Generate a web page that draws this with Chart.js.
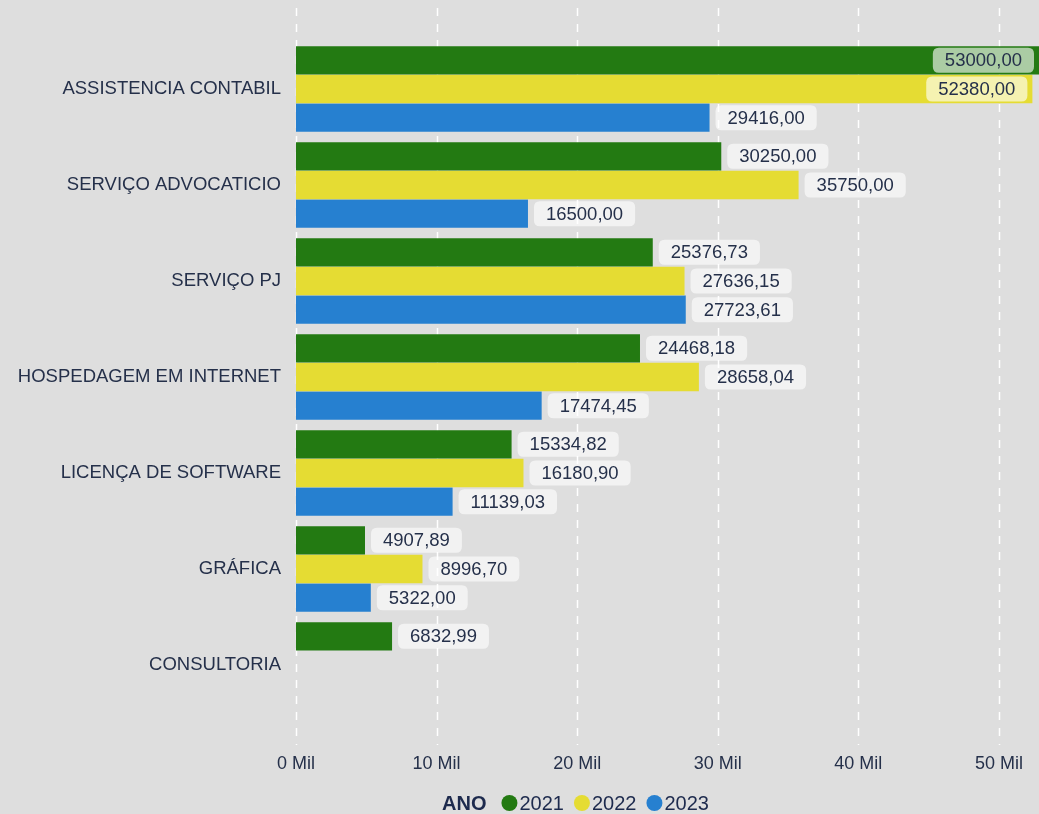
<!DOCTYPE html>
<html>
<head>
<meta charset="utf-8">
<script src="https://cdn.jsdelivr.net/npm/chart.js@4.4.1/dist/chart.umd.min.js"></script>
<style>
  html, body { margin: 0; padding: 0; background: #dedede; }
  canvas { display: block; }
</style>
</head>
<body>
<canvas id="chart0" width="1039" height="814"></canvas>
<script>
var categorias = ["ASSISTENCIA CONTABIL", "SERVIÇO ADVOCATICIO", "SERVIÇO PJ", "HOSPEDAGEM EM INTERNET", "LICENÇA DE SOFTWARE", "GRÁFICA", "CONSULTORIA"];
var anos = ["2021", "2022", "2023"];
var valores2021 = [53000.00, 30250.00, 25376.73, 24468.18, 15334.82, 4907.89, 6832.99];
var valores2022 = [52380.00, 35750.00, 27636.15, 28658.04, 16180.90, 8996.70, null];
var valores2023 = [29416.00, 16500.00, 27723.61, 17474.45, 11139.03, 5322.00, null];
var ticksX = [0, 10000, 20000, 30000, 40000, 50000];
var cores = ["#237a12", "#e5dc33", "#2680d0"];

var corTexto = "#25304a";
var fonte = "'Liberation Sans', Arial, sans-serif";

function formatar(v) {
    return v.toFixed(2).replace('.', ',');
}

function roundRect(c, x, y, w, h, r) {
    c.beginPath();
    c.moveTo(x + r, y);
    c.lineTo(x + w - r, y);
    c.quadraticCurveTo(x + w, y, x + w, y + r);
    c.lineTo(x + w, y + h - r);
    c.quadraticCurveTo(x + w, y + h, x + w - r, y + h);
    c.lineTo(x + r, y + h);
    c.quadraticCurveTo(x, y + h, x, y + h - r);
    c.lineTo(x, y + r);
    c.quadraticCurveTo(x, y, x + r, y);
    c.closePath();
}

// dashed white lines for the x ticks, a bit taller than the plot area
var gradeTracejada = {
    id: 'gradeTracejada',
    beforeDatasetsDraw: function(chart) {
        var c = chart.ctx;
        var x = chart.scales.x;
        c.save();
        c.strokeStyle = '#ffffff';
        c.lineWidth = 1.5;
        c.setLineDash([8, 8]);
        x.ticks.forEach(function(t) {
            var px = Math.round(x.getPixelForValue(t.value)) + 0.5;
            c.beginPath();
            c.moveTo(px, 8);
            c.lineTo(px, chart.chartArea.bottom + 32);
            c.stroke();
        });
        c.restore();
    }
};

// value labels in rounded boxes
var rotulos = {
    id: 'rotulos',
    afterDatasetsDraw: function(chart) {
        var c = chart.ctx;
        var area = chart.chartArea;
        c.save();
        c.font = '18.5px ' + fonte;
        c.textBaseline = 'middle';
        chart.data.datasets.forEach(function(ds, i) {
            var meta = chart.getDatasetMeta(i);
            meta.data.forEach(function(bar, j) {
                var v = ds.data[j];
                if (v === null || v === undefined) return;
                var txt = formatar(v);
                var w = c.measureText(txt).width + 24;
                var h = 25;
                var fim = Math.min(bar.x, area.right);
                var bx = fim + 6;
                if (bx + w > area.right) bx = fim - 5 - w;
                var by = bar.y - h / 2;
                c.fillStyle = 'rgba(255,255,255,0.62)';
                roundRect(c, bx, by, w, h, 6);
                c.fill();
                c.fillStyle = corTexto;
                c.textAlign = 'center';
                c.fillText(txt, bx + w / 2, bar.y + 1);
            });
        });
        c.restore();
    }
};

// legend line: "ANO" + coloured dots
var legendaAno = {
    id: 'legendaAno',
    afterDraw: function(chart) {
        var c = chart.ctx;
        var y = 804;
        c.save();
        c.textBaseline = 'middle';
        c.textAlign = 'left';
        c.font = 'bold 20px ' + fonte;
        c.fillStyle = '#1d2a4d';
        var x = 442;
        c.fillText('ANO', x, y);
        x += c.measureText('ANO').width + 15;
        c.font = '20px ' + fonte;
        chart.data.datasets.forEach(function(ds) {
            c.fillStyle = ds.backgroundColor;
            c.beginPath();
            c.arc(x + 8, y - 1, 8, 0, Math.PI * 2);
            c.fill();
            x += 18;
            c.fillStyle = '#1d2a4d';
            c.fillText(ds.label, x, y);
            x += c.measureText(ds.label).width + 10;
        });
        c.restore();
    }
};

var ctx = document.getElementById('chart0').getContext('2d');

var chart = new Chart(ctx, {
    type: 'bar',
    data: {
        labels: categorias,
        datasets: [
            { label: anos[0], data: valores2021, backgroundColor: cores[0] },
            { label: anos[1], data: valores2022, backgroundColor: cores[1] },
            { label: anos[2], data: valores2023, backgroundColor: cores[2] }
        ]
    },
    options: {
        responsive: false,
        animation: false,
        indexAxis: 'y',
        categoryPercentage: 0.895,
        barPercentage: 0.99,
        layout: { padding: { top: 41, right: 0, bottom: 40, left: 0 } },
        plugins: {
            legend: { display: false },
            tooltip: { enabled: false }
        },
        scales: {
            x: {
                min: 0,
                max: 52850,
                grid: { display: false, drawTicks: false, tickLength: 0 },
                border: { display: false },
                afterBuildTicks: function(axis) {
                    axis.ticks = ticksX.map(function(v) { return { value: v }; });
                },
                afterFit: function(axis) {
                    axis.height = 61;
                    axis.paddingRight = 0;
                    axis.paddingLeft = 0;
                },
                ticks: {
                    padding: 40,
                    maxRotation: 0,
                    color: corTexto,
                    font: { size: 18, family: fonte },
                    callback: function(v) { return (v / 1000) + ' Mil'; }
                }
            },
            y: {
                grid: { display: false, drawTicks: false },
                border: { display: false },
                afterFit: function(axis) { axis.width = 296; },
                ticks: {
                    padding: 15,
                    color: corTexto,
                    font: { size: 18.5, family: fonte }
                }
            }
        }
    },
    plugins: [gradeTracejada, rotulos, legendaAno]
});
</script>
</body>
</html>
